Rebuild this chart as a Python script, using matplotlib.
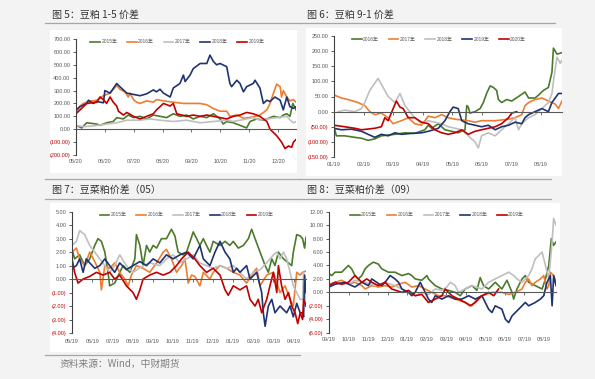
import numpy as np
import matplotlib
matplotlib.use('Agg')
import matplotlib.pyplot as plt
from matplotlib.patches import Rectangle
from matplotlib.lines import Line2D

# 字体：数字用 Liberation Sans，中文回退到 Noto Sans CJK SC
plt.rcParams['font.family'] = ['Liberation Sans', 'Noto Sans CJK SC']
FONT_CN = ['Noto Sans CJK SC', 'DejaVu Sans']

C_GREEN = '#4b7a2b'
C_ORANGE = '#ed7d31'
C_GREY = '#bfbfbf'
C_NAVY = '#1f3370'
C_RED = '#c00000'
TXT = '#595959'

# ---------------- 图5：豆粕 1-5 价差 (x 为距 05/20 的月数) ----------------
f5_months = ['05/20', '06/20', '07/20', '08/20', '09/20', '10/20', '11/20', '12/20']
f5_x_2015 = [0, 0.20, 0.37, 0.72, 0.83, 1.06, 1.29, 1.41, 1.64, 1.81, 1.99, 2.22, 2.45, 2.68, 2.91,
             3.14, 3.37, 3.60, 3.83, 4.06, 4.30, 4.53, 4.76, 4.99, 5.10, 5.22, 5.45, 5.68, 5.91,
             6.03, 6.26, 6.49, 6.61, 6.84, 7.07, 7.18, 7.30, 7.41, 7.51, 7.62]
f5_y_2015 = [30, 10, 50, 40, 30, 50, 60, 90, 80, 110, 90, 100, 80, 110, 100,
             90, 120, 100, 110, 80, 100, 90, 120, 80, 40, 60, 50, 30, 10,
             60, 80, 70, 80, 100, 90, 110, 120, 100, 200, 150]
f5_x_2016 = [0, 0.14, 0.25, 0.43, 0.72, 0.95, 1.18, 1.41, 1.52, 1.70, 1.81, 1.87, 1.99, 2.10, 2.22,
             2.45, 2.68, 2.79, 3.03, 3.37, 3.72, 4.06, 4.30, 4.53, 4.76, 4.99, 5.22, 5.33, 5.57,
             5.80, 6.14, 6.37, 6.49, 6.61, 6.72, 6.84, 6.95, 7.07, 7.12, 7.18, 7.30, 7.41, 7.53, 7.62]
f5_y_2016 = [130, 180, 200, 215, 225, 260, 280, 340, 310, 290, 250, 280, 230, 210, 200,
             220, 210, 230, 220, 210, 200, 200, 200, 190, 160, 140, 140, 100, 110,
             85, 95, 110, 130, 150, 200, 280, 350, 330, 250, 300, 250, 220, 230, 210]
f5_x_2017 = [0, 0.25, 0.60, 1.06, 1.41, 1.76, 2.22, 2.56, 2.91, 3.37, 3.83, 4.30, 4.76, 5.22,
             5.45, 5.91, 6.14, 6.37, 6.61, 6.95, 7.30, 7.47, 7.53, 7.62]
f5_y_2017 = [30, 20, 25, 40, 50, 70, 70, 80, 70, 60, 70, 50, 60, 70,
             60, 80, 90, 70, 80, 90, 100, 60, 50, 60]
f5_x_2018 = [0, 0.14, 0.37, 0.43, 0.60, 0.72, 0.95, 1.00, 1.18, 1.41, 1.52, 1.76, 1.99, 2.22,
             2.45, 2.68, 2.79, 2.91, 3.03, 3.26, 3.37, 3.60, 3.72, 3.78, 3.95, 4.06, 4.30, 4.53,
             4.64, 4.76, 4.87, 4.99, 5.22, 5.33, 5.39, 5.57, 5.68, 5.80, 5.91, 6.14, 6.20, 6.37,
             6.49, 6.61, 6.72, 6.89, 7.07, 7.18, 7.30, 7.41, 7.53, 7.62]
f5_y_2018 = [150, 175, 200, 225, 200, 215, 205, 300, 280, 355, 330, 280, 270, 260,
             275, 305, 290, 310, 280, 250, 320, 355, 420, 370, 420, 470, 510, 510,
             575, 525, 500, 510, 485, 355, 330, 380, 355, 290, 330, 355, 380, 320,
             200, 225, 215, 250, 225, 150, 250, 175, 162, 175]
f5_x_2019 = [0, 0.14, 0.37, 0.72, 0.83, 0.95, 1.06, 1.18, 1.29, 1.41, 1.47, 1.64, 1.76, 1.99,
             2.22, 2.45, 2.68, 2.79, 3.03, 3.26, 3.37, 3.49, 3.66, 3.83, 4.06, 4.30, 4.53, 4.76,
             4.99, 5.22, 5.45, 5.68, 5.91, 6.14, 6.37, 6.61, 6.72, 6.95, 7.12, 7.24, 7.36, 7.47,
             7.53, 7.62]
f5_y_2019 = [120, 150, 200, 210, 250, 230, 200, 250, 210, 180, 140, 110, 130, 100,
             80, 100, 120, 150, 200, 180, 200, 120, 110, 100, 110, 100, 110, 100,
             90, 80, 100, 110, 130, 120, 100, 60, 0, -50, -100, -150, -130, -140,
             -100, -80]

# ---------------- 图6：豆粕 9-1 价差 (x 为距 01/19 的月数) ----------------
f6_months = ['01/19', '02/19', '03/19', '04/19', '05/19', '06/19', '07/19', '08/19']
f6_x_2016 = [0, 0.08, 0.36, 0.70, 0.93, 1.15, 1.38, 1.60, 2.06, 2.40, 2.73, 3.07, 3.19, 3.30,
             3.53, 3.75, 3.98, 4.20, 4.43, 4.49, 4.54, 4.60, 4.77, 4.94, 5.05, 5.16, 5.28, 5.39,
             5.50, 5.56, 5.67, 5.84, 6.01, 6.24, 6.46, 6.58, 6.80, 6.92, 7.08, 7.25, 7.37, 7.42,
             7.54, 7.71]
f6_y_2016 = [-50, -80, -80, -85, -88, -95, -90, -80, -75, -70, -72, -60, -45, -55,
             -40, -60, -65, -70, -60, 20, 15, -5, 0, 10, 30, 60, 85, 80,
             70, 40, 30, 40, 35, 50, 65, 45, 45, 55, 70, 80, 130, 210,
             190, 195]
f6_x_2017 = [0, 0.25, 0.47, 0.81, 1.04, 1.21, 1.38, 1.60, 1.83, 2.00, 2.28, 2.51, 2.73, 2.96,
             3.19, 3.41, 3.64, 3.86, 4.09, 4.54, 4.77, 4.99, 5.45, 5.90, 6.12, 6.35, 6.46, 6.58,
             6.80, 7.03, 7.25, 7.48, 7.59, 7.71]
f6_y_2017 = [55, 45, 40, 30, 20, 0, -10, -5, -20, -40, -30, -20, -40, -45,
             -15, -20, -10, -20, -25, -30, -35, -30, -30, -25, -20, -10, 20, 30,
             40, 45, 35, 25, 10, 35]
f6_x_2018 = [0.14, 0.36, 0.70, 0.93, 1.04, 1.21, 1.49, 1.66, 1.83, 2.06, 2.23, 2.40, 2.56, 2.73,
             2.96, 3.19, 3.64, 3.86, 4.32, 4.54, 4.77, 4.88, 4.99, 5.22, 5.45, 5.67, 5.90, 6.12,
             6.24, 6.35, 6.58, 6.80, 7.03, 7.25, 7.37, 7.42, 7.54, 7.65, 7.71]
f6_y_2018 = [0, 5, 0, 10, 30, 70, 110, 80, 50, 30, 60, 20, 0, -20,
             -40, -30, -40, -50, -60, -80, -100, -120, -80, -70, -80, -60, -40, -20,
             -60, -40, -20, -10, 10, 30, 60, 100, 180, 160, 170]
f6_x_2019 = [0, 0.25, 0.59, 0.93, 1.15, 1.38, 1.60, 1.83, 2.06, 2.28, 2.62, 2.96, 3.19, 3.53,
             3.75, 3.92, 4.03, 4.20, 4.32, 4.54, 4.77, 4.99, 5.22, 5.45, 5.67, 5.90, 6.12, 6.35,
             6.46, 6.58, 6.80, 7.03, 7.25, 7.37, 7.48, 7.59, 7.71]
f6_y_2019 = [-55, -60, -58, -65, -75, -85, -75, -80, -70, -75, -72, -70, -65, -55,
             -30, 0, 15, 10, -30, -40, -45, -50, -45, -60, -50, -45, -35, -40,
             -20, -10, 0, 10, 0, 30, 45, 60, 60]
f6_x_2020 = [0, 0.36, 0.70, 0.93, 1.38, 1.60, 1.72, 1.83, 2.00, 2.11, 2.23, 2.34, 2.51, 2.73,
             2.96, 3.19, 3.41, 3.64, 3.86, 4.09, 4.32, 4.54, 4.77, 4.99, 5.22, 5.45, 5.67, 5.90,
             6.01, 6.18]
f6_y_2020 = [-45, -50, -55, -60, -55, -50, -20, -30, 10, 35, 15, 10, -20, -20,
             -35, -40, -60, -70, -75, -70, -60, -75, -65, -60, -55, -50, -40, -20,
             -5, 0]

# ---------------- 图7：豆菜粕价差（05）(x 为距 05/19 的月数) ----------------
f7_months = ['05/19', '06/19', '07/19', '08/19', '09/19', '10/19', '11/19', '12/19',
             '01/19', '02/19', '03/19', '04/19']
f7_x_2015 = [0, 0.13, 0.38, 0.63, 0.88, 1.13, 1.29, 1.46, 1.63, 1.79, 1.87, 2.12, 2.37, 2.54,
             2.87, 3.12, 3.20, 3.37, 3.53, 3.70, 3.86, 4.03, 4.20, 4.44, 4.69, 4.94, 5.11, 5.27,
             5.52, 5.69, 6.02, 6.19, 6.35, 6.52, 6.68, 6.85, 7.01, 7.35, 7.60, 7.84, 8.01, 8.26,
             8.51, 8.76, 8.92, 9.09, 9.34, 9.59, 9.75, 9.92, 10.08, 10.25, 10.50, 10.75, 10.91,
             10.99, 11.16, 11.33, 11.45, 11.55, 11.62]
f7_y_2015 = [2.2, 1.5, 1.8, 1.0, 1.5, 2.5, 3.0, 2.8, 2.0, 0.5, -0.5, -0.3, 0.5, 1.0,
             0.5, 1.5, 3.3, 2.5, 1.0, 2.5, 2.0, 2.5, 2.3, 3.0, 3.0, 3.7, 3.2, 2.0,
             1.8, 2.0, 3.5, 3.0, 2.5, 3.0, 2.5, 2.0, 2.8, 2.5, 2.8, 2.5, 2.8, 2.3,
             2.5, 3.0, 3.7, 3.0, 2.0, 1.0, 0.5, 1.5, 1.0, 2.0, 1.5, 1.2, 1.0,
             2.0, 3.3, 3.2, 3.0, 2.3, 3.1]
f7_x_2016 = [0, 0.22, 0.38, 0.63, 0.88, 1.13, 1.38, 1.46, 1.63, 1.87, 2.12, 2.37, 2.62, 2.79,
             2.95, 3.20, 3.53, 3.86, 4.20, 4.53, 4.69, 4.94, 5.19, 5.44, 5.61, 5.77, 5.94, 6.10,
             6.35, 6.52, 6.85, 7.01, 7.35, 7.68, 8.01, 8.34, 8.67, 9.00, 9.17, 9.34, 9.67, 10.00,
             10.33, 10.58, 10.83, 10.99, 11.16, 11.33, 11.45, 11.62]
f7_y_2016 = [2.0, 2.3, 1.5, 1.0, 2.0, 1.3, 0.5, -0.8, 1.0, 0.8, 1.2, 0.5, 0.0, -0.5,
             0.3, 1.0, 0.8, 0.5, 1.2, 2.0, 2.2, 1.5, 0.5, 1.0, 1.5, -0.3, 0.3, 0.2,
             -0.5, 0.5, 0.0, 0.5, 1.0, 0.8, 0.5, 0.3, -0.3, 0.5, 0.8, -0.5, 0.3, 0.5,
             -1.0, -0.5, -1.5, -2.0, 0.5, 0.3, 0.5, 0.6]
f7_x_2017 = [0, 0.22, 0.38, 0.63, 0.88, 1.13, 1.38, 1.63, 1.87, 2.12, 2.37, 2.70, 3.03, 3.53,
             3.86, 4.36, 4.69, 5.02, 5.36, 5.69, 6.02, 6.35, 6.68, 7.01, 7.35, 7.68, 8.01, 8.34,
             8.67, 9.00, 9.34, 9.67, 10.00, 10.17, 10.33, 10.50, 10.66, 10.83, 10.99, 11.16,
             11.33, 11.45, 11.50, 11.62]
f7_y_2017 = [2.5, 2.8, 3.6, 3.3, 2.5, 2.0, 1.5, 1.0, 0.5, 1.0, 1.8, 1.0, 0.5, 1.0,
             1.2, 1.0, 1.5, 1.8, 1.2, 1.5, 1.8, 1.2, 1.0, 0.8, 1.0, 0.8, 1.0, 0.5,
             0.0, 0.5, 0.7, 1.2, 1.8, 2.0, 1.5, 2.0, 1.5, 0.5, -0.5, -1.0,
             -1.5, -1.5, 0.5, -2.0]
f7_x_2018 = [0, 0.22, 0.38, 0.55, 0.71, 0.88, 1.13, 1.38, 1.63, 1.87, 2.12, 2.37, 2.70, 3.03,
             3.37, 3.70, 4.03, 4.36, 4.69, 5.02, 5.36, 5.69, 6.02, 6.35, 6.52, 6.85, 7.10, 7.35,
             7.60, 7.84, 8.01, 8.18, 8.34, 8.67, 8.84, 9.17, 9.42, 9.50, 9.59, 9.75, 9.92, 10.08,
             10.33, 10.66, 10.83, 10.99, 11.16, 11.33, 11.45, 11.50, 11.55, 11.62]
f7_y_2018 = [0.8, 1.0, 1.5, 0.5, 1.5, 1.2, 0.8, 1.0, 1.5, 1.0, 0.5, 1.2, 0.7, 1.0,
             1.3, 1.0, 1.5, 1.2, 1.8, 1.5, 1.8, 2.0, 1.5, 2.5, 1.5, 1.0, 2.0, 2.8,
             2.0, 1.5, 0.5, 0.8, 0.5, 1.0, 0.0, 0.5, -1.0, -2.5, -3.5, -2.0, -1.5, -2.5,
             -2.0, -2.5, -2.0, -2.8, -1.8, -2.5, -2.5, -2.8, 0.3, -1.0]
f7_x_2019 = [0, 0.13, 0.30, 0.55, 0.88, 1.21, 1.54, 1.87, 2.12, 2.37, 2.70, 3.03, 3.20, 3.37,
             3.53, 3.86, 4.20, 4.53, 4.86, 5.19, 5.44, 5.77, 6.10, 6.35, 6.68, 7.01, 7.35, 7.60,
             7.76, 8.01, 8.34, 8.67, 8.84, 9.09, 9.25, 9.42, 9.67, 9.83, 10.00, 10.17, 10.25,
             10.41, 10.58, 10.75, 10.91, 11.08, 11.21, 11.33, 11.45, 11.50, 11.62]
f7_y_2019 = [1.5, 0.5, -0.3, 0.0, 0.2, 0.5, 0.3, 0.5, 0.0, 0.3, -0.5, -1.0, -1.5, -0.8,
             0.0, 0.3, 0.5, 0.3, 0.5, 1.0, 1.5, 2.0, 1.5, 1.0, 0.5, 0.8, 0.3, -0.8,
             -1.2, -0.5, -0.8, -0.5, -1.5, -2.0, -1.5, -2.5, -1.5, -0.5, 0.5, -1.0, 1.0,
             -0.5, -1.5, -1.0, -2.0, -2.5, -3.3, -2.5, -3.0, -1.5, -2.0]

# ---------------- 图8：豆菜粕价差（09）(x 为距 09/19 的月数) ----------------
f8_months = ['09/19', '10/19', '11/19', '12/19', '01/19', '02/19', '03/19', '04/19',
             '05/19', '06/19', '07/19', '08/19']
f8_x_2015 = [0, 0.14, 0.31, 0.65, 0.82, 0.99, 1.16, 1.33, 1.50, 1.68, 1.85, 2.02, 2.27, 2.53,
             2.70, 3.04, 3.38, 3.73, 4.07, 4.24, 4.41, 4.75, 5.01, 5.09, 5.26, 5.44, 5.78, 6.12,
             6.46, 6.72, 6.97, 7.32, 7.57, 7.74, 7.91, 8.17, 8.51, 8.85, 9.11, 9.37, 9.45, 9.62,
             9.88, 10.05, 10.22, 10.56, 10.91, 11.08, 11.25, 11.38, 11.50, 11.62]
f8_y_2015 = [2.8, 2.5, 3.0, 3.0, 3.5, 4.0, 3.5, 2.5, 2.0, 2.5, 3.5, 4.0, 4.5, 4.2,
             3.5, 3.0, 3.0, 2.5, 2.8, 2.5, 2.0, 1.8, 2.5, 2.0, 1.5, 1.0, 0.5, 0.3,
             0.0, -0.5, 0.5, 1.0, 0.3, 2.2, 1.0, 0.5, 1.5, 0.5, 1.8, 0.0, -1.0, 0.5,
             2.0, 2.5, 1.5, 1.0, 0.5, 2.0, 4.0, 8.0, 7.0, 7.5]
f8_x_2016 = [0, 0.31, 0.65, 0.99, 1.33, 1.68, 1.85, 2.19, 2.53, 2.87, 3.21, 3.56, 3.90, 4.24,
             4.58, 4.92, 5.26, 5.61, 5.95, 6.46, 6.97, 7.32, 7.57, 7.83, 8.34, 8.85, 9.20, 9.54,
             9.88, 10.05, 10.22, 10.39, 10.56, 10.82, 10.99, 11.16, 11.25, 11.33, 11.50, 11.62]
f8_y_2016 = [1.2, 1.5, 1.8, 1.2, 1.5, 1.0, 0.5, 1.0, 0.8, 1.0, 0.8, 1.2, 1.5, 0.8,
             1.0, 0.5, 0.0, -0.5, -0.5, -1.0, -1.5, -2.0, -1.0, -0.5, 0.0, 0.0, -0.3, 0.0,
             0.5, 1.5, 2.0, 1.0, 1.5, 2.0, 2.5, 0.5, 1.0, 3.0, 2.5, 1.5]
f8_x_2017 = [0, 0.48, 0.99, 1.33, 1.85, 2.36, 2.87, 3.38, 3.73, 4.07, 4.41, 4.75, 5.09, 5.44,
             5.78, 6.03, 6.21, 6.46, 6.63, 6.97, 7.32, 7.83, 8.17, 8.51, 8.85, 9.20, 9.45, 9.62,
             9.88, 10.22, 10.39, 10.56, 10.74, 10.91, 11.08, 11.25, 11.42, 11.50, 11.62]
f8_y_2017 = [1.0, 1.5, 1.2, 1.8, 1.5, 1.0, 1.5, 1.0, 0.5, 0.0, -0.5, 0.0, -0.3, 0.5,
             0.3, 0.8, 1.5, 1.0, 0.0, 0.5, 1.0, 0.5, 1.5, 2.0, 2.5, 3.0, 2.5, 2.0,
             1.5, 2.5, 3.5, 5.0, 5.5, 6.0, 4.0, 2.0, 7.5, 11.0, 10.0]
f8_x_2018 = [0, 0.31, 0.82, 1.16, 1.33, 1.68, 2.02, 2.19, 2.44, 2.70, 2.87, 3.13, 3.38, 3.56,
             3.73, 4.07, 4.24, 4.41, 4.67, 4.84, 5.09, 5.26, 5.44, 5.78, 6.12, 6.46, 6.80, 7.15,
             7.49, 7.83, 8.00, 8.17, 8.34, 8.51, 8.85, 9.03, 9.20, 9.37, 9.54, 9.71, 10.05,
             10.22, 10.56, 10.82, 10.99, 11.16, 11.33, 11.42, 11.50, 11.62]
f8_y_2018 = [0.8, 1.2, 1.5, 1.0, 0.8, 1.5, 1.0, 2.0, 1.5, 1.0, 1.5, 2.5, 2.0, 1.5,
             0.5, 0.0, -0.5, 0.0, 1.5, 0.5, -1.0, -1.5, -0.5, -1.0, -0.5, -1.0, -1.0, -0.5,
             -1.0, -0.5, -1.5, -2.5, -3.0, -2.0, -2.5, -4.0, -4.5, -3.5, -3.0, -2.5, -1.5,
             -2.0, -1.5, -1.0, -0.5, 1.5, 2.5, -2.0, 2.5, 1.0]
f8_x_2019 = [0, 0.31, 0.65, 0.99, 1.33, 1.50, 1.68, 1.93, 2.19, 2.53, 2.87, 3.21, 3.73, 4.07,
             4.41, 4.75, 5.09, 5.44, 5.78, 5.95, 6.29, 6.63, 6.97, 7.23, 7.49, 7.83, 8.17, 8.43,
             8.68]
f8_y_2019 = [1.0, 1.5, 1.2, 1.5, 2.5, 2.0, 1.5, 2.0, 1.5, 1.0, 1.5, 0.5, 0.0, 0.3,
             -0.5, -0.3, -1.5, -1.0, -0.5, 0.5, -0.5, -1.0, -1.5, -2.0, -1.5, -0.5, 0.0, -0.5,
             0.5]

W, H = 595, 379


def box(l, t, r, b):
    return [l / W, 1 - b / H, (r - l) / W, (b - t) / H]


def hline(fig, x0, x1, y):
    fig.add_artist(Line2D([x0 / W, x1 / W], [1 - y / H, 1 - y / H], color='#a6a6a6', lw=0.9,
                          transform=fig.transFigure))


def white(fig, l, t, r, b):
    fig.add_artist(Rectangle((l / W, 1 - b / H), (r - l) / W, (b - t) / H, facecolor='white',
                             edgecolor='none', transform=fig.transFigure, zorder=-1))


def setup(ax, xmax, ylo, yhi, ystep, labels, lab_y, leg_x):
    ax.set_facecolor('none')
    ax.set_xlim(0, xmax)
    ax.set_ylim(ylo, yhi)
    for s in ['top', 'right']:
        ax.spines[s].set_visible(False)
    ax.spines['left'].set_color('#404040')
    ax.spines['left'].set_linewidth(0.8)
    ax.spines['bottom'].set_position(('data', 0))
    ax.spines['bottom'].set_color('#595959')
    ax.spines['bottom'].set_linewidth(0.8)
    yt = np.arange(ylo, yhi + ystep / 2, ystep)
    ax.set_yticks(yt)
    ax.set_yticklabels([f'{v:,.2f}' if v >= 0 else f'({-v:,.2f})' for v in yt])
    for t, v in zip(ax.get_yticklabels(), yt):
        t.set_color(C_RED if v < 0 else TXT)
    ax.tick_params(axis='y', length=2, width=0.6, color='#404040', labelsize=4, pad=2)
    ax.set_xticks(range(len(labels)))
    ax.tick_params(axis='x', length=2, width=0.6, color='#595959', labelbottom=False)
    # 横轴标签放在图底部
    for i, lab in enumerate(labels):
        ax.text(i, lab_y, lab, transform=ax.get_xaxis_transform(), ha='center', va='center',
                fontsize=4, color=TXT)
    ax.legend(loc='center', bbox_to_anchor=(leg_x, 0.975), ncol=5, frameon=False,
              fontsize=3.5, handlelength=2.0, handletextpad=0.3, columnspacing=2.0,
              labelcolor=TXT)


fig = plt.figure(figsize=(5.95, 3.79), dpi=100)
fig.patch.set_facecolor('#f3f3f3')

white(fig, 50, 30, 297, 173)
white(fig, 306, 28, 562, 176)
white(fig, 50, 203, 307, 352)
white(fig, 307, 203, 560, 352)

hline(fig, 45, 300, 23)
hline(fig, 300, 555, 23)
hline(fig, 45, 300, 179)
hline(fig, 45, 300, 199)
hline(fig, 300, 551, 179)
hline(fig, 300, 551, 199)
hline(fig, 45, 300, 355)

tkw = dict(fontsize=7.2, color='#333333', family=FONT_CN, va='center', ha='left')
fig.text(52 / W, 1 - 15 / H, '图 5：豆粕 1-5 价差', **tkw)
fig.text(307 / W, 1 - 15 / H, '图 6：豆粕 9-1 价差', **tkw)
fig.text(52 / W, 1 - 190 / H, '图 7：豆菜粕价差（05）', **tkw)
fig.text(307 / W, 1 - 190 / H, '图 8：豆菜粕价差（09）', **tkw)
fig.text(60 / W, 1 - 364 / H, '资料来源：Wind，中财期货', fontsize=7, color='#7f7f7f',
         family=FONT_CN, va='center', ha='left')

lw = 1.2

ax1 = fig.add_axes(box(76, 39, 296, 155))
ax1.plot(f5_x_2015, f5_y_2015, color=C_GREEN, lw=lw, label='2015年')
ax1.plot(f5_x_2016, f5_y_2016, color=C_ORANGE, lw=lw, label='2016年')
ax1.plot(f5_x_2017, f5_y_2017, color=C_GREY, lw=lw, label='2017年')
ax1.plot(f5_x_2018, f5_y_2018, color=C_NAVY, lw=lw, label='2018年')
ax1.plot(f5_x_2019, f5_y_2019, color=C_RED, lw=lw, label='2019年')
setup(ax1, 7.62, -200, 700, 100, f5_months, -0.06, 0.46)

ax2 = fig.add_axes(box(334, 36, 562, 157))
ax2.plot(f6_x_2016, f6_y_2016, color=C_GREEN, lw=lw, label='2016年')
ax2.plot(f6_x_2017, f6_y_2017, color=C_ORANGE, lw=lw, label='2017年')
ax2.plot(f6_x_2018, f6_y_2018, color=C_GREY, lw=lw, label='2018年')
ax2.plot(f6_x_2019, f6_y_2019, color=C_NAVY, lw=lw, label='2019年')
ax2.plot(f6_x_2020, f6_y_2020, color=C_RED, lw=lw, label='2020年')
setup(ax2, 7.71, -150, 250, 50, f6_months, -0.058, 0.46)

ax3 = fig.add_axes(box(72, 211.7, 306, 333))
ax3.plot(f7_x_2015, f7_y_2015, color=C_GREEN, lw=lw, label='2015年')
ax3.plot(f7_x_2016, f7_y_2016, color=C_ORANGE, lw=lw, label='2016年')
ax3.plot(f7_x_2017, f7_y_2017, color=C_GREY, lw=lw, label='2017年')
ax3.plot(f7_x_2018, f7_y_2018, color=C_NAVY, lw=lw, label='2018年')
ax3.plot(f7_x_2019, f7_y_2019, color=C_RED, lw=lw, label='2019年')
setup(ax3, 11.62, -4, 5, 1, f7_months, -0.066, 0.49)

ax4 = fig.add_axes(box(329, 211.7, 556, 332.7))
ax4.plot(f8_x_2015, f8_y_2015, color=C_GREEN, lw=lw, label='2015年')
ax4.plot(f8_x_2016, f8_y_2016, color=C_ORANGE, lw=lw, label='2016年')
ax4.plot(f8_x_2017, f8_y_2017, color=C_GREY, lw=lw, label='2017年')
ax4.plot(f8_x_2018, f8_y_2018, color=C_NAVY, lw=lw, label='2018年')
ax4.plot(f8_x_2019, f8_y_2019, color=C_RED, lw=lw, label='2019年')
setup(ax4, 11.62, -6, 12, 2, f8_months, -0.06, 0.476)

fig.savefig('out.png', dpi=100, facecolor=fig.get_facecolor())
